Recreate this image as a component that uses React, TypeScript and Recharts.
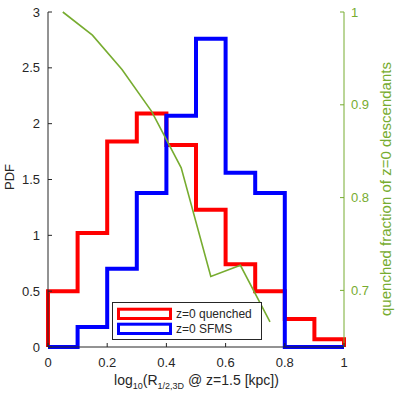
import { ComposedChart, Line, XAxis, YAxis, Legend } from 'recharts';

// histogram bin edges and heights (PDF)
const binEdges = [0, 0.1, 0.2, 0.3, 0.4, 0.5, 0.6, 0.7, 0.8, 0.9, 1.0];
const quenchedPdf = [0.5, 1.02, 1.84, 2.09, 1.81, 1.23, 0.74, 0.5, 0.25, 0.07];
const sfmsPdf = [0, 0.18, 0.7, 1.38, 2.07, 2.76, 1.56, 1.38, 0, 0];

// quenched fraction at bin centres (right axis)
const fracBins = [0.05, 0.15, 0.25, 0.35, 0.45, 0.55, 0.65, 0.75];
const quenchedFrac = [1.0, 0.975, 0.938, 0.893, 0.832, 0.715, 0.727, 0.666];

const seriesNames = ['z=0 quenched', 'z=0 SFMS'];

const xTicks = [0, 0.2, 0.4, 0.6, 0.8, 1];
const pdfTicks = [0, 0.5, 1, 1.5, 2, 2.5, 3];
const fracTicks = [0.7, 0.8, 0.9, 1];

const AXIS = '#262626';
const GREEN = '#77AC30';

// outline of a histogram, dropping to zero at both ends
function toSteps(vals: number[]) {
  const pts = [{ x: binEdges[0], y: 0 }];
  binEdges.forEach((e, i) => pts.push({ x: e, y: vals[Math.min(i, vals.length - 1)] }));
  pts.push({ x: binEdges[binEdges.length - 1], y: 0 });
  return pts;
}

const quenchedSteps = toSteps(quenchedPdf);
const sfmsSteps = toSteps(sfmsPdf);
const fracData = fracBins.map((x, i) => ({ x, y: quenchedFrac[i] }));

const BottomTick = ({ x, y, payload }: any) => (
  <g>
    <line x1={x} x2={x} y1={y} y2={y - 4} stroke={AXIS} />
    <text x={x} y={y + 20} textAnchor="middle" fill={AXIS} fontSize={13}>
      {payload.value}
    </text>
  </g>
);

const TopTick = ({ x, y }: any) => <line x1={x} x2={x} y1={y} y2={y + 4} stroke={AXIS} />;

const LeftTick = ({ x, y, payload }: any) => (
  <g>
    <line x1={x} x2={x + 4} y1={y} y2={y} stroke={AXIS} />
    <text x={x - 8} y={y + 4.5} textAnchor="end" fill={AXIS} fontSize={13}>
      {payload.value}
    </text>
  </g>
);

const RightTick = ({ x, y, payload }: any) => (
  <g>
    <line x1={x} x2={x - 4} y1={y} y2={y} stroke={GREEN} />
    <text x={x + 7} y={y + 4.5} textAnchor="start" fill={GREEN} fontSize={13}>
      {payload.value}
    </text>
  </g>
);

const LegendBox = ({ payload }: any) => {
  const items = (payload || [])
    .filter((p: any) => seriesNames.includes(p.value))
    .sort((a: any, b: any) => seriesNames.indexOf(a.value) - seriesNames.indexOf(b.value));
  return (
    <svg width={150} height={38} style={{ display: 'block' }}>
      <rect x={0.5} y={0.5} width={149} height={37} fill="#fff" stroke={AXIS} strokeWidth={1} />
      {items.map((p: any, i: number) => (
        <g key={p.value}>
          <rect x={6.5} y={7.2 + i * 15} width={52} height={9.3} fill="none" stroke={p.color} strokeWidth={3} />
          <text x={64} y={16 + i * 15} fontSize={12} fill={AXIS}>
            {p.value}
          </text>
        </g>
      ))}
    </svg>
  );
};

export default function App() {
  return (
    <div style={{ position: 'absolute', left: 0, top: 0 }}>
      <ComposedChart
        width={395}
        height={395}
        margin={{ top: 12, right: 0, bottom: 0, left: 0 }}
        style={{ fontFamily: '"Liberation Sans", Arial, sans-serif' }}
      >
        <XAxis
          xAxisId="b"
          dataKey="x"
          type="number"
          domain={[0, 1]}
          ticks={xTicks}
          height={48}
          stroke={AXIS}
          tickLine={false}
          tickSize={0}
          tickMargin={0}
          tick={<BottomTick />}
          label={() => (
            <text x={196.5} y={385} textAnchor="middle" fill={AXIS} fontSize={14}>
              log<tspan dy={4} fontSize={9}>10</tspan>
              <tspan dy={-4}>(R</tspan>
              <tspan dy={4} fontSize={9}>1/2,3D</tspan>
              <tspan dy={-4}> @ z=1.5 [kpc])</tspan>
            </text>
          )}
        />
        <XAxis
          xAxisId="t"
          dataKey="x"
          type="number"
          orientation="top"
          domain={[0, 1]}
          ticks={xTicks}
          height={0}
          stroke={AXIS}
          tickLine={false}
          tickSize={0}
          tickMargin={0}
          tick={<TopTick />}
        />
        <YAxis
          yAxisId="left"
          domain={[0, 3]}
          ticks={pdfTicks}
          width={48}
          stroke={AXIS}
          tickLine={false}
          tickSize={0}
          tickMargin={0}
          tick={<LeftTick />}
          label={() => (
            <text x={13.5} y={177} textAnchor="middle" fill={AXIS} fontSize={13} transform="rotate(-90, 13.5, 177)">
              PDF
            </text>
          )}
        />
        <YAxis
          yAxisId="right"
          orientation="right"
          domain={[0.639, 1]}
          ticks={fracTicks}
          width={51}
          stroke={GREEN}
          tickLine={false}
          tickSize={0}
          tickMargin={0}
          tick={<RightTick />}
          label={() => (
            <text x={391} y={189} textAnchor="middle" fill={GREEN} fontSize={15} transform="rotate(-90, 391, 189)">
              quenched fraction of z=0 descendants
            </text>
          )}
        />
        <Line
          xAxisId="b"
          yAxisId="left"
          data={quenchedSteps}
          dataKey="y"
          name={seriesNames[0]}
          type="stepAfter"
          stroke="#FF0000"
          strokeWidth={4}
          dot={false}
          activeDot={false}
          isAnimationActive={false}
        />
        <Line
          xAxisId="b"
          yAxisId="left"
          data={sfmsSteps}
          dataKey="y"
          name={seriesNames[1]}
          type="stepAfter"
          stroke="#0000FF"
          strokeWidth={4}
          dot={false}
          activeDot={false}
          isAnimationActive={false}
        />
        <Line
          xAxisId="b"
          yAxisId="right"
          data={fracData}
          dataKey="y"
          name="quenched fraction"
          type="linear"
          stroke={GREEN}
          strokeWidth={1.6}
          dot={false}
          activeDot={false}
          legendType="none"
          isAnimationActive={false}
        />
        <Legend
          layout="vertical"
          align="center"
          verticalAlign="middle"
          width={150}
          height={38}
          content={<LegendBox />}
          wrapperStyle={{ left: 112, top: 302, width: 150, height: 38 }}
        />
      </ComposedChart>
    </div>
  );
}
